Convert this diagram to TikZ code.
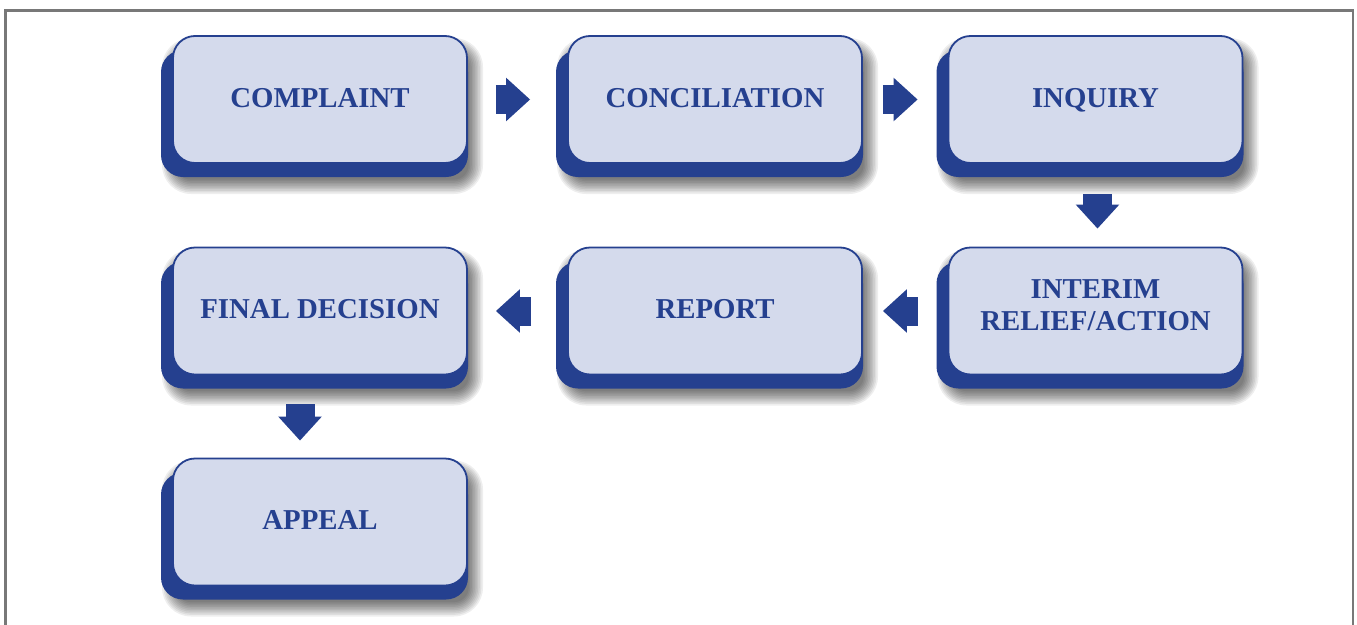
\documentclass[tikz,border=0pt]{standalone}
\usepackage{fontspec}
\setmainfont{Liberation Serif}
\usetikzlibrary{arrows.meta,calc}
\definecolor{dblue}{RGB}{37,64,143}
\definecolor{lblue}{RGB}{212,218,236}
\definecolor{framegray}{RGB}{120,120,120}

\tikzset{
  shadowlayer/.style={fill=black, fill opacity=0.065},
  stepback/.style={rounded corners=22pt, fill=dblue, minimum width=307pt,
    minimum height=127pt, inner sep=0pt},
  stepfront/.style={rounded corners=22pt, fill=lblue, draw=dblue,
    line width=1.8pt, minimum width=294pt, minimum height=127pt,
    inner sep=0pt, align=center, text=dblue,
    font=\fontsize{28.8}{32}\selectfont\bfseries, text depth=4pt},
  flow/.style={draw=dblue, line width=29pt,
    -{Triangle[length=24pt,width=42pt]}}
}

% one stage: soft shadow (stacked translucent layers), dark backing plate,
% then the light front box with its label
\newcommand\flowstage[5][]{%
  \foreach \i [evaluate=\i as \rc using 29-1.6*\i,
               evaluate=\i as \l using -158+1.6*\i,
               evaluate=\i as \t using -61.5+1.6*\i,
               evaluate=\i as \r using 163-1.6*\i,
               evaluate=\i as \b using 94.5-1.6*\i] in {0,...,9}
    \fill[shadowlayer, rounded corners=\rc pt]
      ($(#3,#4)+(\l,\t)$) rectangle ($(#3,#4)+(\r,\b)$);
  \node[stepback] (#2-back) at ($(#3,#4)+(-5.5,14)$) {};
  \node[stepfront,#1] (#2) at (#3,#4) {#5};
}

\begin{document}
\begin{tikzpicture}[x=1pt,y=-1pt]
  \useasboundingbox (0,0) rectangle (1357,624);
  \clip (0,0) rectangle (1357,624);
  \fill[white] (0,0) rectangle (1357,624);
  \draw[framegray, line width=2.5pt] (5.7,10.5) rectangle (1353,700);

  \flowstage{complaint}{320}{99.5}{COMPLAINT}
  \flowstage{conciliation}{715}{99.5}{CONCILIATION}
  \flowstage{inquiry}{1095.5}{99.5}{INQUIRY}
  \flowstage[text depth=12pt]{interim}{1095.5}{311}{INTERIM\\RELIEF/ACTION}
  \flowstage{report}{715}{311}{REPORT}
  \flowstage{final}{320}{311}{FINAL DECISION}
  \flowstage{appeal}{320}{522}{APPEAL}

  \draw[flow, shorten <=28pt, shorten >=37pt] (complaint) -- (conciliation);
  \draw[flow, shorten <=20pt, shorten >=30pt] (conciliation) -- (inquiry);
  \draw[flow, shorten <=30pt, shorten >=18pt]
    ([xshift=2pt]inquiry.south) -- ([xshift=2pt]interim.north);
  \draw[flow, shorten <=30pt, shorten >=20pt] (interim) -- (report);
  \draw[flow, shorten <=36pt, shorten >=28pt] (report) -- (final);
  \draw[flow, shorten <=29pt, shorten >=17pt]
    ([xshift=-20pt]final.south) -- ([xshift=-20pt]appeal.north);
\end{tikzpicture}
\end{document}
